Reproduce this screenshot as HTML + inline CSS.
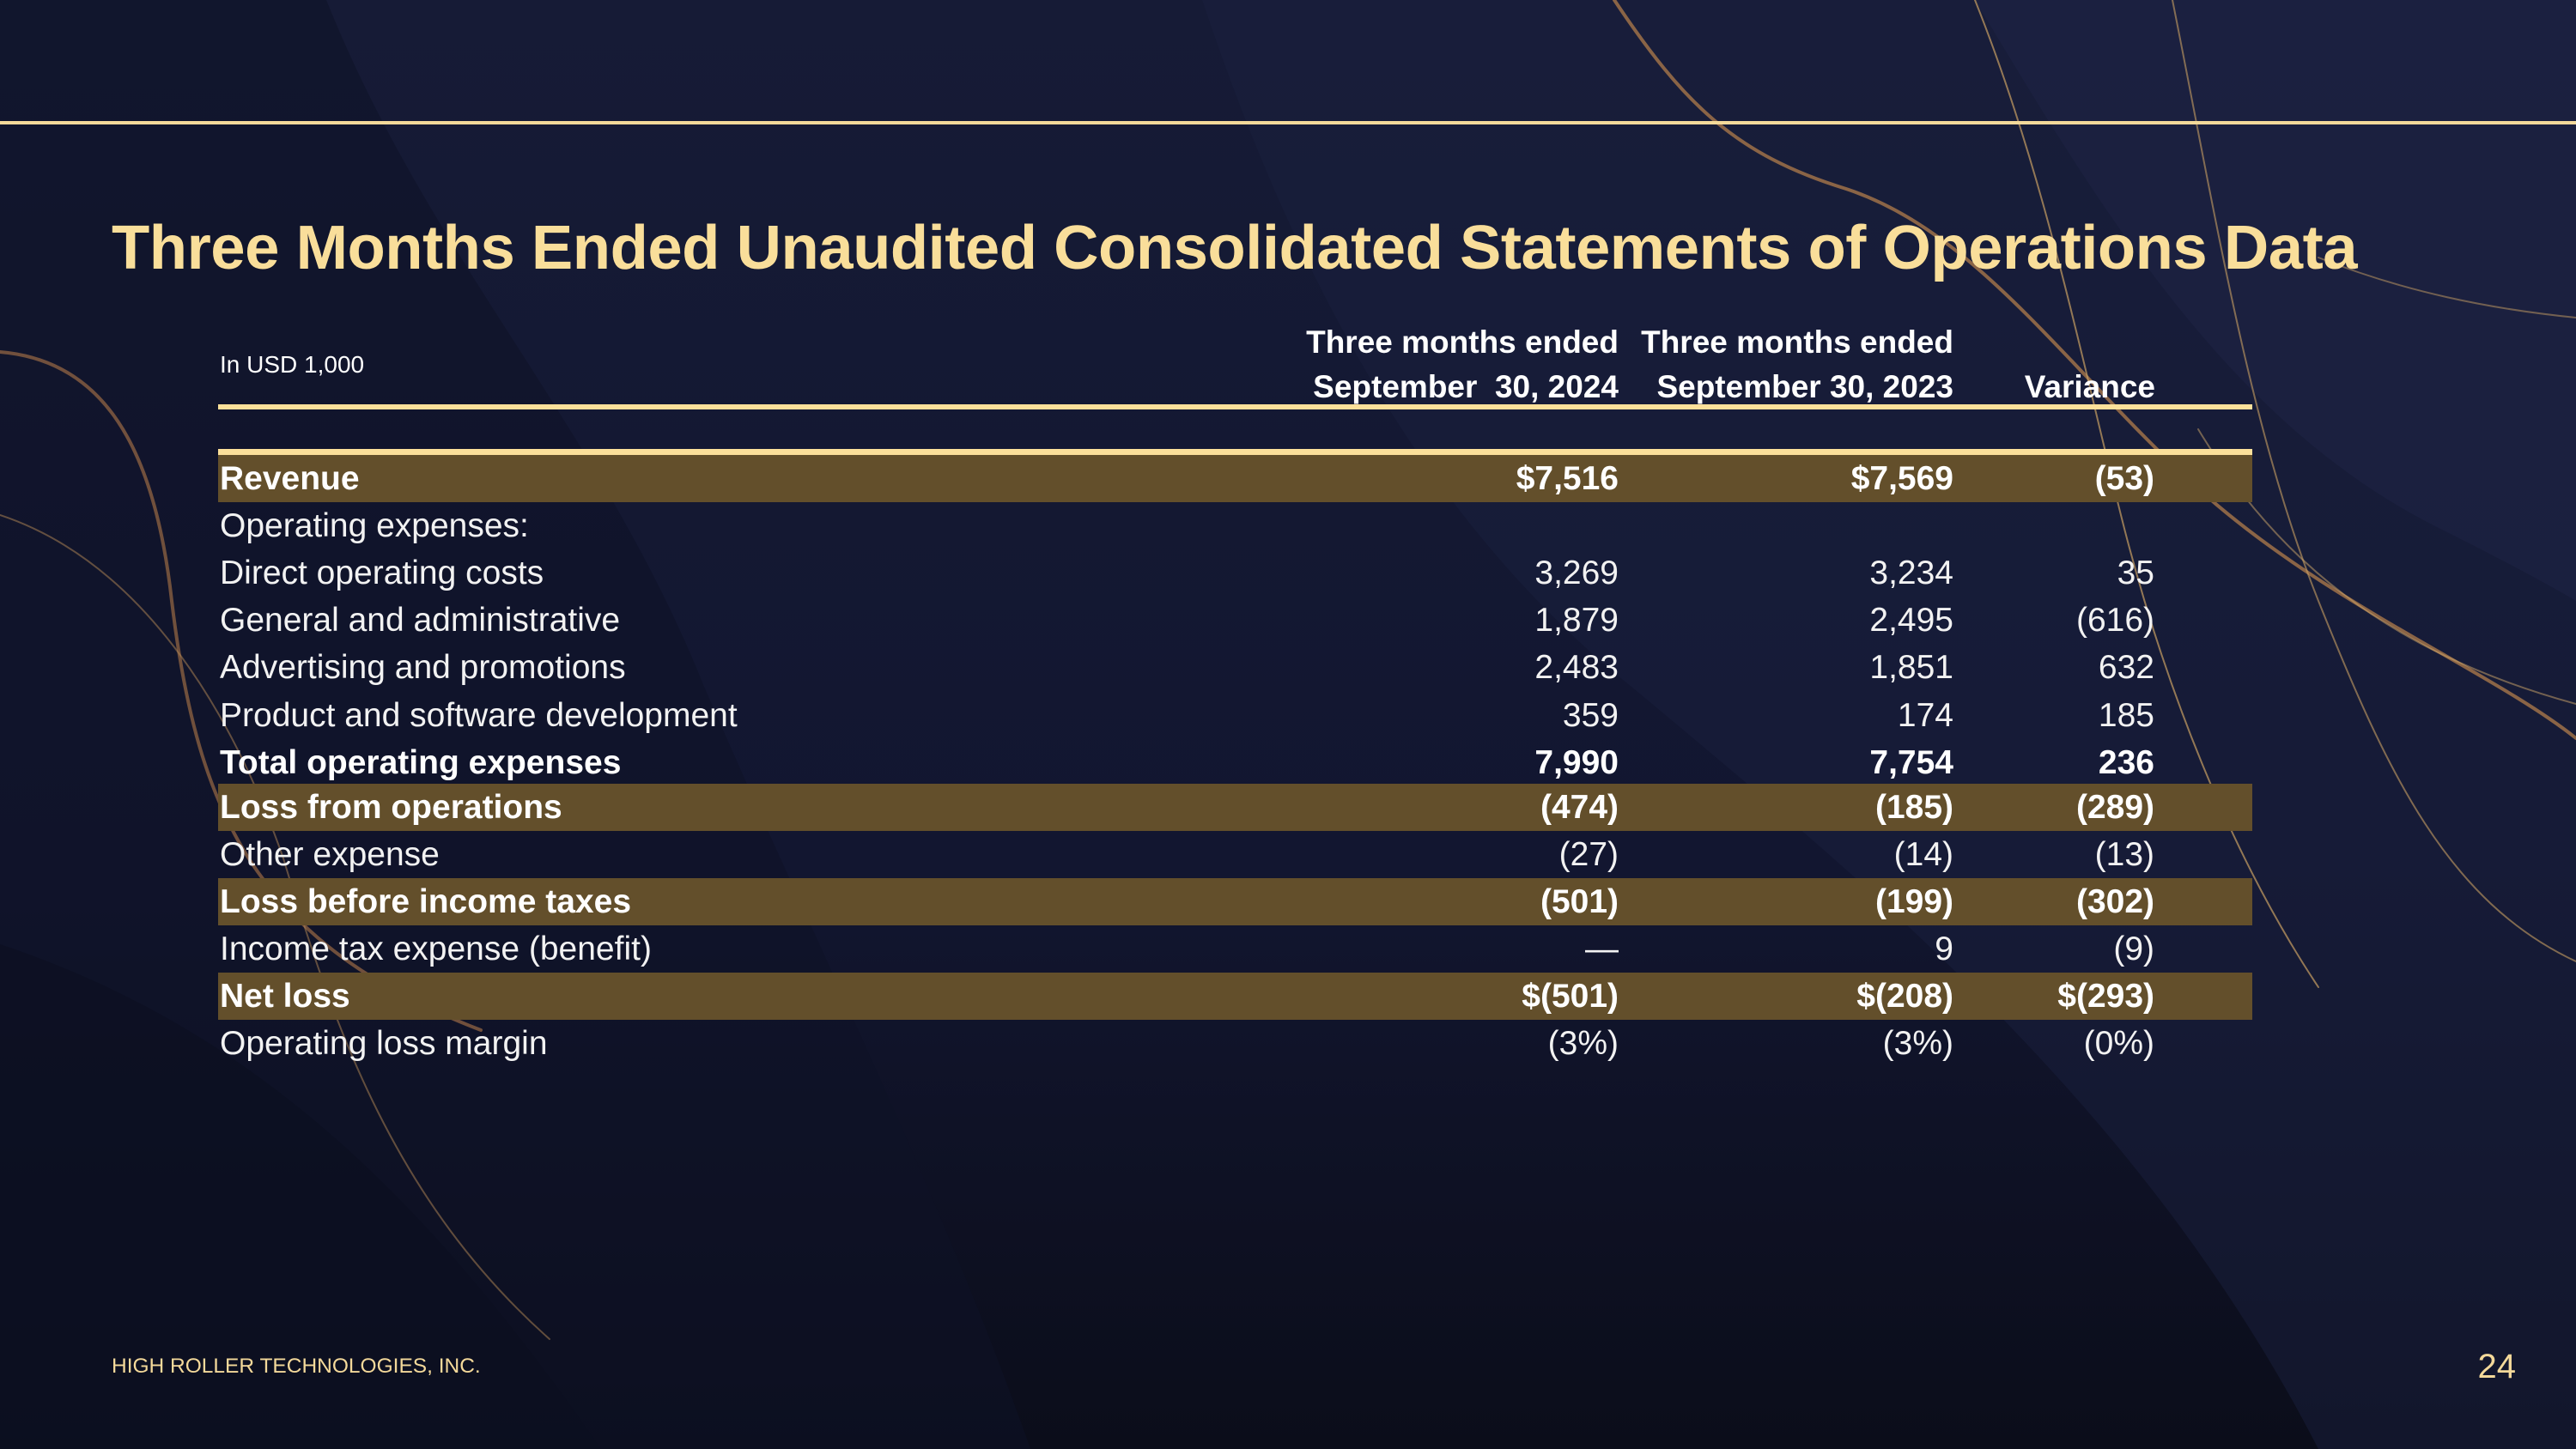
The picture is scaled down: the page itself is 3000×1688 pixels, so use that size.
<!DOCTYPE html>
<html><head><meta charset="utf-8"><style>
*{margin:0;padding:0;box-sizing:border-box}
body{width:3000px;height:1688px;overflow:hidden;background:#141933;font-family:"Liberation Sans",sans-serif;position:relative}
.bg{position:absolute;left:0;top:0}
.t{position:absolute;white-space:nowrap}
.title{left:130px;top:247px;font-size:72.5px;font-weight:bold;color:#F9DE9A;letter-spacing:-0.5px}
.hdr{font-size:37px;font-weight:bold;color:#fff;text-align:right}
.row{position:absolute;left:254px;width:2369px;height:55.2px}
.row.b{background:#634F2B}
.row span{position:absolute;top:50%;transform:translateY(-50%);font-size:39px;color:#f2f2f2;white-space:nowrap}
.row.bold span{font-weight:bold;color:#fff}
.l{left:2px}
.c1{right:738px}
.c2{right:348px}
.c3{right:114px}
</style></head><body>
<svg class="bg" width="3000" height="1688" viewBox="0 0 3000 1688">
<defs><linearGradient id="g" x1="0" y1="0" x2="0" y2="1"><stop offset="0" stop-color="#161b36"/><stop offset="0.6" stop-color="#121630"/><stop offset="1" stop-color="#0b0d1a"/></linearGradient></defs>
<rect width="3000" height="1688" fill="url(#g)"/>
<path d="M380 0 C 500 300 700 500 820 800 C 950 1100 1100 1400 1200 1688 L 0 1688 L0 0Z" fill="#0f1327" opacity="0.55"/>
<path d="M1400 0 C 1500 300 1650 600 1900 800 C 2200 1050 2500 1300 2700 1688 L 3000 1688 L 3000 0Z" fill="#1a1f3d" opacity="0.5"/>
<path d="M2300 0 C 2450 250 2600 500 2850 620 C 2950 670 3000 700 3000 700 L3000 0Z" fill="#1e2344" opacity="0.6"/>
<path d="M0 1100 C 300 1200 500 1400 700 1688 L0 1688Z" fill="#0c0f1f" opacity="0.6"/>
<g fill="none" stroke-linecap="round">
<path d="M1880 0 C 1960 120 2020 180 2150 220 C 2300 270 2400 420 2550 560 C 2700 700 2900 780 3000 860" stroke="#a8774a" stroke-width="4" opacity="0.8"/>
<path d="M2300 0 C 2380 200 2420 400 2470 600 C 2520 800 2600 1000 2700 1150" stroke="#c9a063" stroke-width="2" opacity="0.7"/>
<path d="M2530 0 C 2580 250 2620 500 2700 700 C 2780 900 2850 1050 3000 1120" stroke="#c9a063" stroke-width="2" opacity="0.6"/>
<path d="M2560 500 C 2650 650 2780 760 3000 820" stroke="#d0a86a" stroke-width="2" opacity="0.5"/>
<path d="M0 410 C 120 420 180 520 200 700 C 230 950 300 1100 560 1200" stroke="#9a6a45" stroke-width="4" opacity="0.7"/>
<path d="M0 600 C 150 650 260 800 330 1000 C 390 1200 460 1400 640 1560" stroke="#b58a55" stroke-width="2" opacity="0.5"/>
<path d="M2700 300 C 2800 340 2900 360 3000 370" stroke="#c9a063" stroke-width="2" opacity="0.5"/>
</g>
</svg>
<div style="position:absolute;left:0;top:141px;width:3000px;height:4px;background:#F4D99A"></div>
<div class="t title">Three Months Ended Unaudited Consolidated Statements of Operations Data</div>
<div class="t" style="left:256px;top:409px;font-size:28px;color:#fff">In USD 1,000</div>
<div class="t hdr" style="right:1115px;top:378px">Three months ended</div>
<div class="t hdr" style="right:1115px;top:430px">September&nbsp; 30, 2024</div>
<div class="t hdr" style="right:725px;top:378px">Three months ended</div>
<div class="t hdr" style="right:725px;top:430px">September 30, 2023</div>
<div class="t hdr" style="right:490px;top:430px">Variance</div>
<div style="position:absolute;left:254px;top:471px;width:2369px;height:6px;background:#FCE09A"></div>
<div style="position:absolute;left:254px;top:523px;width:2369px;height:7px;background:#FCE09A"></div>

<div class="row b bold" style="top:530px"><span class="l">Revenue</span><span class="c1">$7,516</span><span class="c2">$7,569</span><span class="c3">(53)</span></div>
<div class="row" style="top:585px"><span class="l">Operating expenses:</span></div>
<div class="row" style="top:640.5px"><span class="l">Direct operating costs</span><span class="c1">3,269</span><span class="c2">3,234</span><span class="c3">35</span></div>
<div class="row" style="top:695.7px"><span class="l">General and administrative</span><span class="c1">1,879</span><span class="c2">2,495</span><span class="c3">(616)</span></div>
<div class="row" style="top:750.9px"><span class="l">Advertising and promotions</span><span class="c1">2,483</span><span class="c2">1,851</span><span class="c3">632</span></div>
<div class="row" style="top:806px"><span class="l">Product and software development</span><span class="c1">359</span><span class="c2">174</span><span class="c3">185</span></div>
<div class="row bold" style="top:861px"><span class="l">Total operating expenses</span><span class="c1">7,990</span><span class="c2">7,754</span><span class="c3">236</span></div>
<div class="row b bold" style="top:913px"><span class="l">Loss from operations</span><span class="c1">(474)</span><span class="c2">(185)</span><span class="c3">(289)</span></div>
<div class="row" style="top:968px"><span class="l">Other expense</span><span class="c1">(27)</span><span class="c2">(14)</span><span class="c3">(13)</span></div>
<div class="row b bold" style="top:1023px"><span class="l">Loss before income taxes</span><span class="c1">(501)</span><span class="c2">(199)</span><span class="c3">(302)</span></div>
<div class="row" style="top:1078px"><span class="l">Income tax expense (benefit)</span><span class="c1">—</span><span class="c2">9</span><span class="c3">(9)</span></div>
<div class="row b bold" style="top:1133px"><span class="l">Net loss</span><span class="c1">$(501)</span><span class="c2">$(208)</span><span class="c3">$(293)</span></div>
<div class="row" style="top:1188px"><span class="l">Operating loss margin</span><span class="c1">(3%)</span><span class="c2">(3%)</span><span class="c3">(0%)</span></div>

<div class="t" style="left:130px;top:1578px;font-size:24.5px;color:#F4D99A">HIGH ROLLER TECHNOLOGIES, INC.</div>
<div class="t" style="right:70px;top:1570px;font-size:40px;color:#F4D99A">24</div>
</body></html>
